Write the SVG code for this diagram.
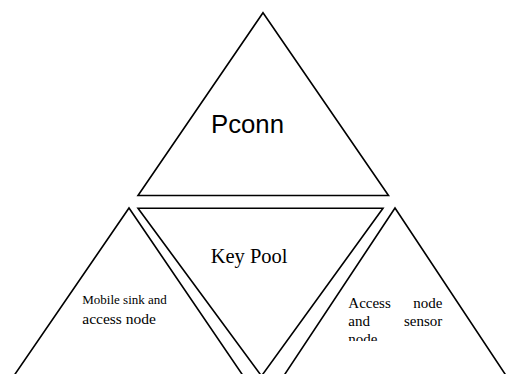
<svg xmlns="http://www.w3.org/2000/svg" width="507" height="374" viewBox="0 0 507 374">
  <style>
    .tri { fill: #ffffff; stroke: #000000; stroke-width: 1.6; stroke-linejoin: miter; }
    .sans { font-family: "Liberation Sans", Arial, sans-serif; fill: #000000; }
    .serif { font-family: "Liberation Serif", "Times New Roman", serif; fill: #000000; }
  </style>
  <defs>
    <clipPath id="rightTextClip">
      <rect x="340" y="290" width="110" height="51"/>
    </clipPath>
  </defs>
  <rect width="507" height="374" fill="#ffffff"/>

  <g id="connectors"></g>

  <g id="pconn">
    <polygon class="tri" points="263,12.7 388.5,195.5 138,195.5"/>
    <text class="sans" x="211" y="133" font-size="26" textLength="73" lengthAdjust="spacingAndGlyphs">Pconn</text>
  </g>

  <g id="key-pool">
    <polygon class="tri" points="138,208.3 383,208.3 261.5,376"/>
    <text class="serif" x="210.7" y="262.7" font-size="20.5">Key Pool</text>
  </g>

  <g id="mobile-sink">
    <polygon class="tri" points="129,208 246,380 11,380"/>
    <text class="serif" x="82.3" y="304.3" font-size="13">Mobile sink and</text>
    <text class="serif" x="82.3" y="324.3" font-size="15.5">access node</text>
  </g>

  <g id="access-sensor">
    <polygon class="tri" points="395,208 509,380 281,380"/>
    <g clip-path="url(#rightTextClip)">
      <text class="serif" x="348.3" y="307.7" font-size="15">Access</text>
      <text class="serif" x="442.3" y="307.7" font-size="15" text-anchor="end">node</text>
      <text class="serif" x="348.3" y="325.7" font-size="15">and</text>
      <text class="serif" x="442.3" y="325.7" font-size="15" text-anchor="end">sensor</text>
      <text class="serif" x="348.3" y="343.7" font-size="15">node</text>
    </g>
  </g>
</svg>
